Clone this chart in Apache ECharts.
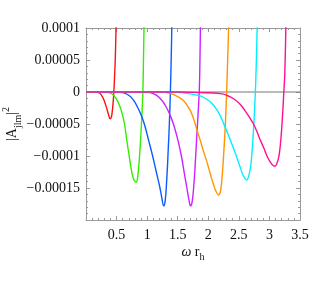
<!DOCTYPE html>
<html>
<head>
<meta charset="utf-8">
<script src="https://cdn.jsdelivr.net/npm/echarts@6/dist/echarts.min.js"></script>
<style>html,body{margin:0;padding:0;background:#fff;}#c{width:312px;height:281px;}</style>
</head>
<body>
<div id="c"></div>
<script>
// y values in units of 1e-5
const xTickValues = [0, 0.5, 1, 1.5, 2, 2.5, 3, 3.5];
const xTickLabels = ['', '0.5', '1', '1.5', '2', '2.5', '3', '3.5'];
const yTickValues = [-20, -15, -10, -5, 0, 5, 10];
const yTickLabels = ['', '\u22120.00015', '\u22120.0001', '\u22120.00005', '0', '0.00005', '0.0001'];

const redW = [0, 0.17, 0.22, 0.26, 0.3, 0.34, 0.37, 0.395, 0.415, 0.43, 0.445, 0.455, 0.468, 0.48, 0.492, 0.505];
const redY = [0, 0, -0.15, -0.6, -1.4, -2.6, -3.6, -4.2, -3.9, -3, -1.5, 0, 2.5, 5.5, 10.5, 18];

const greenW = [0, 0.3, 0.38, 0.45, 0.51, 0.56, 0.6, 0.63, 0.665, 0.7, 0.735, 0.765, 0.795, 0.82, 0.845, 0.874, 0.907, 0.93, 0.94, 0.95, 0.965];
const greenY = [0, 0, -0.1, -0.5, -1.3, -2.4, -3.7, -5, -7.4, -9.6, -11.8, -13.2, -13.9, -14.1, -13.3, -10.2, -5, 0, 5, 11, 20];

const blueW = [0, 0.5, 0.6, 0.7, 0.78, 0.85, 0.91, 0.96, 1.02, 1.09, 1.15, 1.21, 1.245, 1.27, 1.295, 1.32, 1.345, 1.365, 1.38, 1.393, 1.405, 1.42];
const blueY = [0, 0, -0.1, -0.5, -1.3, -2.5, -3.8, -5.2, -7.4, -10, -12.5, -15, -16.8, -17.8, -17, -13.8, -9, -4.5, 0, 5, 11, 20];

const purpleW = [0, 0.9, 1.05, 1.15, 1.24, 1.31, 1.37, 1.43, 1.5, 1.56, 1.61, 1.65, 1.685, 1.71, 1.735, 1.76, 1.785, 1.81, 1.832, 1.852, 1.862, 1.872, 1.885];
const purpleY = [0, 0, -0.1, -0.5, -1.3, -2.3, -3.5, -5, -7.4, -10, -12.8, -15, -16.9, -17.8, -17.2, -15, -11.5, -7.2, -3.6, 0, 4, 10.5, 20];

const orangeW = [0, 1.1, 1.3, 1.45, 1.59, 1.7, 1.76, 1.81, 1.87, 1.92, 1.98, 2.03, 2.08, 2.12, 2.17, 2.2, 2.225, 2.25, 2.28, 2.30, 2.315, 2.333, 2.35];
const orangeY = [0, 0, -0.05, -0.5, -1.3, -2.8, -4.2, -5.8, -7.6, -9.2, -11, -12.7, -14.3, -15.4, -16.1, -15.5, -13.4, -10, -4.9, 0, 4.5, 10.5, 20];

const cyanW = [0, 1.2, 1.5, 1.7, 1.87, 1.97, 2.06, 2.14, 2.2, 2.25, 2.31, 2.36, 2.42, 2.47, 2.52, 2.56, 2.6, 2.63, 2.66, 2.69, 2.715, 2.745, 2.77, 2.785, 2.80, 2.82];
const cyanY = [0, 0, -0.05, -0.3, -0.6, -1.1, -1.8, -2.8, -3.8, -4.9, -6.3, -7.5, -9, -10.3, -11.7, -12.8, -13.5, -13.75, -13.2, -11.8, -9.5, -5, 0, 4.5, 10.5, 20];

const magentaW = [0, 1.5, 1.87, 2.2, 2.31, 2.42, 2.52, 2.6, 2.67, 2.74, 2.8, 2.85, 2.91, 2.96, 3.01, 3.05, 3.09, 3.12, 3.15, 3.175, 3.2, 3.22, 3.235, 3.25, 3.27, 3.29];
const magentaY = [0, 0, -0.1, -0.25, -0.55, -1.1, -1.9, -2.9, -3.9, -5, -6.3, -7.5, -8.8, -10, -10.9, -11.4, -11.6, -11.2, -10.3, -8.6, -5.8, -2.8, 0, 2.5, 10.5, 20];

const curves = [
  {w: redW, y: redY, color: '#ff1010'},
  {w: greenW, y: greenY, color: '#33ee00'},
  {w: blueW, y: blueY, color: '#0a5cff'},
  {w: purpleW, y: purpleY, color: '#cc22ff'},
  {w: orangeW, y: orangeY, color: '#ff9500'},
  {w: cyanW, y: cyanY, color: '#00f0ff'},
  {w: magentaW, y: magentaY, color: '#ff0f96'}
];

const FONT = 'Liberation Serif';
const frameColor = '#999';

function xFmt(v) {
  const i = xTickValues.findIndex(t => Math.abs(t - v) < 1e-6);
  return i >= 0 ? xTickLabels[i] : '';
}
function yFmt(v) {
  const i = yTickValues.findIndex(t => Math.abs(t - v) < 1e-6);
  return i >= 0 ? yTickLabels[i] : '';
}

const axisCommon = {
  type: 'value',
  axisLine: {show: true, onZero: false, lineStyle: {color: frameColor, width: 1}},
  axisTick: {show: true, inside: true, length: 4, lineStyle: {color: frameColor}},
  minorTick: {show: true, splitNumber: 5, length: 2, lineStyle: {color: frameColor}},
  splitLine: {show: false}
};

const series = [{
  type: 'line',
  data: [[0, 0], [3.5, 0]],
  symbol: 'none',
  lineStyle: {color: '#777', width: 1},
  silent: true,
  z: 1
}];
curves.forEach(c => {
  series.push({
    type: 'line',
    data: c.w.map((w, i) => [w, c.y[i]]),
    symbol: 'none',
    smooth: 0.4,
    clip: true,
    lineStyle: {color: c.color, width: 1.4},
    z: 2
  });
});

const chart = echarts.init(document.getElementById('c'), null, {renderer: 'canvas'});
chart.setOption({
  animation: false,
  backgroundColor: '#fff',
  grid: {left: 86, right: 12, top: 28, bottom: 61, containLabel: false, outerBoundsMode: 'none'},
  xAxis: [
    Object.assign({}, axisCommon, {
      min: 0, max: 3.5, interval: 0.5, position: 'bottom',
      axisLabel: {formatter: xFmt, fontFamily: FONT, fontSize: 14, color: '#111', margin: 8},
      name: '{w|\u03C9} {t|r}{s|h}',
      nameLocation: 'middle', nameGap: 22, nameMoveOverlap: false,
      nameTextStyle: {
        rich: {
          w: {fontFamily: FONT, fontSize: 14, fontStyle: 'italic', color: '#111', lineHeight: 20},
          t: {fontFamily: FONT, fontSize: 14, color: '#111', lineHeight: 20},
          s: {fontFamily: FONT, fontSize: 10, color: '#111', verticalAlign: 'bottom', lineHeight: 20}
        }
      }
    }),
    Object.assign({}, axisCommon, {
      min: 0, max: 3.5, interval: 0.5, position: 'top',
      axisLabel: {show: false}
    })
  ],
  yAxis: [
    Object.assign({}, axisCommon, {
      min: -20, max: 10, interval: 5, position: 'left',
      axisLabel: {formatter: yFmt, fontFamily: FONT, fontSize: 14, color: '#111', margin: 6},
      name: '{t||A}{s|jlm}{t||}{p|2}',
      nameLocation: 'middle', nameGap: 63, nameRotate: 90, nameMoveOverlap: false,
      nameTextStyle: {
        rich: {
          t: {fontFamily: FONT, fontSize: 14, color: '#111', lineHeight: 22},
          s: {fontFamily: FONT, fontSize: 10, color: '#111', verticalAlign: 'bottom', lineHeight: 22},
          p: {fontFamily: FONT, fontSize: 10, color: '#111', verticalAlign: 'top', lineHeight: 22}
        }
      }
    }),
    Object.assign({}, axisCommon, {
      min: -20, max: 10, interval: 5, position: 'right',
      axisLabel: {show: false}
    })
  ],
  series: series
});
</script>
</body>
</html>
